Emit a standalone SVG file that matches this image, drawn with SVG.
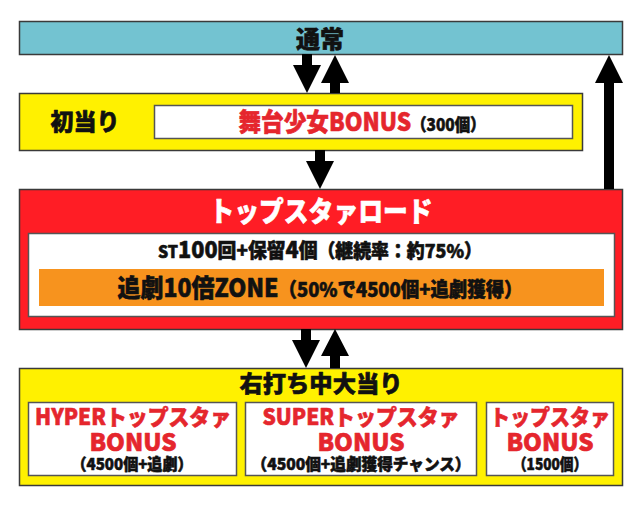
<svg xmlns="http://www.w3.org/2000/svg" width="640" height="506" viewBox="0 0 640 506">
<style>
text{font-family:"Noto Sans CJK JP","Noto Sans",sans-serif;font-weight:900;text-anchor:middle;stroke-width:0.6;stroke-linejoin:round}
.box{stroke:#3a3a3a;stroke-width:1.5}
.inner{fill:#fff;stroke:#555;stroke-width:1.5}
.arrow{fill:#000}
.k{fill:#111;stroke:#111}
.r{fill:#E5262D;stroke:#E5262D}
.w{fill:#fff;stroke:#fff}
</style>
<rect width="640" height="506" fill="#fff"/>
<g id="tsujo">
<rect class="box" x="19.5" y="21.5" width="603" height="33" fill="#73C3D1"/>
<text class="k" x="320" y="48" font-size="24">通常</text>
</g>
<g id="hatsuatari">
<rect class="box" x="19.5" y="93.5" width="563" height="57" fill="#FFF100"/>
<text class="k" x="85" y="130" font-size="23">初当り</text>
<rect class="inner" x="154.5" y="105.5" width="418" height="33"/>
<text x="362" y="131" textLength="247" lengthAdjust="spacingAndGlyphs"><tspan class="r" font-size="25">舞台少女BONUS</tspan><tspan class="k" font-size="17">（300個）</tspan></text>
</g>
<g id="topstar-road">
<rect class="box" x="19.5" y="189.5" width="603" height="140" fill="#FF1D25"/>
<text class="w" x="321" y="222" font-size="28" textLength="223" lengthAdjust="spacingAndGlyphs">トップスタァロード</text>
<rect class="inner" x="28.5" y="233.5" width="586" height="83"/>
<text class="k" x="320" y="258" textLength="324" lengthAdjust="spacingAndGlyphs"><tspan font-size="17">ST</tspan><tspan font-size="23">100</tspan><tspan font-size="20">回+保留</tspan><tspan font-size="23">4</tspan><tspan font-size="20">個</tspan><tspan font-size="19">（継続率：約75%）</tspan></text>
<rect x="39" y="269" width="565" height="37" fill="#F7931E"/>
<text class="k" x="320" y="297" textLength="405" lengthAdjust="spacingAndGlyphs"><tspan font-size="25">追劇10倍ZONE</tspan><tspan font-size="20">（50%で4500個+追劇獲得）</tspan></text>
</g>
<g id="migiuchi">
<rect class="box" x="19.5" y="368.5" width="603" height="117" fill="#FFF100"/>
<text class="k" x="321" y="392" font-size="23" textLength="163" lengthAdjust="spacingAndGlyphs">右打ち中大当り</text>
</g>
<g id="hyper">
<rect class="inner" x="28.5" y="402.5" width="208" height="73"/>
<text class="r" x="133" y="425" font-size="22" textLength="196" lengthAdjust="spacingAndGlyphs">HYPERトップスタァ</text>
<text class="r" x="133" y="451" font-size="24">BONUS</text>
<text class="k" x="132" y="470" font-size="16" textLength="121" lengthAdjust="spacingAndGlyphs">（4500個+追劇）</text>
</g>
<g id="super">
<rect class="inner" x="245.5" y="402.5" width="231" height="73"/>
<text class="r" x="361" y="425" font-size="22" textLength="197" lengthAdjust="spacingAndGlyphs">SUPERトップスタァ</text>
<text class="r" x="361" y="451" font-size="24">BONUS</text>
<text class="k" x="361" y="470" font-size="16" textLength="219" lengthAdjust="spacingAndGlyphs">（4500個+追劇獲得チャンス）</text>
</g>
<g id="topstar">
<rect class="inner" x="486.5" y="402.5" width="127" height="73"/>
<text class="r" x="550" y="425" font-size="22" textLength="120" lengthAdjust="spacingAndGlyphs">トップスタァ</text>
<text class="r" x="550" y="451" font-size="24">BONUS</text>
<text class="k" x="550" y="470" font-size="16" textLength="74" lengthAdjust="spacingAndGlyphs">（1500個）</text>
</g>
<g id="connectors">
<polygon class="arrow" points="302,54 312,54 312,65 321,65 307,93 293,65 302,65"/>
<polygon class="arrow" points="335,55 349,83 340,83 340,93 330,93 330,83 321,83"/>
<polygon class="arrow" points="315,150 325,150 325,161 334,161 320,189 306,161 315,161"/>
<polygon class="arrow" points="609,55 623,83 614,83 614,189 604,189 604,83 595,83"/>
<polygon class="arrow" points="301,329 311,329 311,340 320,340 306,368 292,340 301,340"/>
<polygon class="arrow" points="335,329 349,356 340,356 340,368 330,368 330,356 321,356"/>
</g>
</svg>
